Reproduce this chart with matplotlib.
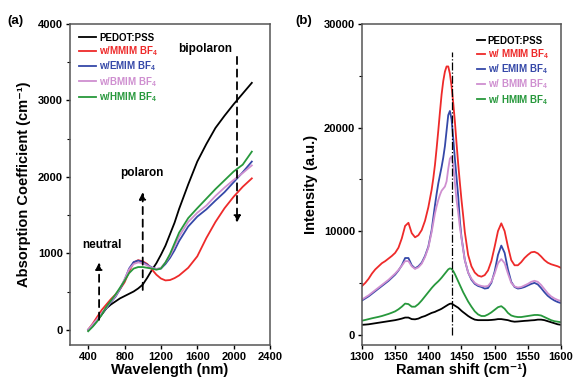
import matplotlib
matplotlib.use("Agg")
import matplotlib.pyplot as plt
from matplotlib.ticker import MultipleLocator

plt.rcParams['font.family'] = ['Liberation Sans', 'DejaVu Sans']
plt.rcParams['font.weight'] = 'bold'
plt.rcParams['mathtext.fontset'] = 'custom'
plt.rcParams['mathtext.rm'] = 'Liberation Sans:bold'
plt.rcParams['mathtext.bf'] = 'Liberation Sans:bold'
plt.rcParams['mathtext.default'] = 'bf'

# ---- (a) absorption spectra ----
wavelength = [400, 450, 500, 550, 600, 650, 700, 750, 800, 850, 900, 950, 1000, 1050,
              1100, 1150, 1200, 1250, 1300, 1350, 1400, 1500, 1600, 1700, 1800, 1900,
              2000, 2100, 2200]
abs_pedot = [0, 50, 120, 200, 280, 330, 370, 410, 440, 470, 500, 540, 590, 680,
             780, 870, 980, 1100, 1250, 1400, 1580, 1900, 2200, 2430, 2640, 2800,
             2950, 3090, 3230]
abs_mmim = [0, 80, 170, 260, 330, 400, 460, 530, 620, 760, 880, 910, 895, 860,
            790, 720, 670, 645, 650, 675, 710, 810, 960, 1200, 1410, 1590,
            1740, 1870, 1980]
abs_emim = [0, 60, 130, 210, 280, 360, 430, 530, 650, 800, 885, 905, 885, 850,
            815, 795, 800, 860, 940, 1040, 1160, 1350, 1480, 1575, 1690, 1800,
            1930, 2060, 2200]
abs_bmim = [0, 70, 140, 220, 290, 370, 440, 540, 660, 790, 860, 880, 870, 840,
            810, 795, 810, 880, 970, 1090, 1220, 1410, 1530, 1625, 1750, 1860,
            1960, 2050, 2150]
abs_hmim = [-20, 40, 110, 200, 300, 380, 460, 550, 640, 740, 800, 820, 820, 810,
            800, 785, 800, 880, 990, 1130, 1270, 1460, 1590, 1715, 1840, 1955,
            2070, 2160, 2330]

# ---- (b) Raman spectra ----
# 1300-1400 every 5, 1405-1455 every 2.5 (main peak), 1460-1600 every 5
raman_shift = (list(range(1300, 1405, 5))
               + [1405, 1407.5, 1410, 1412.5, 1415, 1417.5, 1420, 1422.5, 1425, 1427.5,
                  1430, 1432.5, 1435, 1437.5, 1440, 1442.5, 1445, 1447.5, 1450, 1452.5, 1455]
               + list(range(1460, 1605, 5)))
raman_pedot = [950, 970, 1000, 1050, 1100, 1150, 1200, 1250, 1300, 1350, 1400,
               1470, 1550, 1650, 1650, 1500, 1480, 1550, 1700, 1800, 1950,
               2100, 2150, 2200, 2280, 2350, 2420, 2500, 2600, 2700, 2800, 2900,
               2980, 3000, 2900, 2800, 2700, 2600, 2450, 2300, 2170, 2050,
               1800, 1600, 1450, 1400, 1400, 1400, 1400, 1420, 1450, 1500, 1500,
               1450, 1400, 1300, 1250, 1270, 1300, 1330, 1350, 1380, 1400, 1450,
               1450, 1400, 1300, 1200, 1100, 1000, 950]
raman_mmim = [4700, 5000, 5400, 5900, 6300, 6600, 6900, 7100, 7350, 7600, 7900,
              8400, 9300, 10500, 10800, 9800, 9400, 9600, 10100, 11000, 12300,
              14000, 15100, 16400, 18000, 19700, 21500, 23200, 24500, 25400, 25900, 25900,
              25200, 24000, 22400, 20600, 18500, 16500, 14700, 13000, 11500, 9900,
              7700, 6600, 6000, 5700, 5600, 5750, 6200, 7100, 8500, 10000, 10750,
              10000, 8500, 7200, 6700, 6700, 7000, 7400, 7700, 7950, 8000, 7850,
              7550, 7200, 6950, 6800, 6700, 6600, 6450]
raman_emim = [3300, 3500, 3700, 3950, 4200, 4450, 4700, 4950, 5200, 5500, 5800,
              6200, 6700, 7400, 7400, 6700, 6400, 6600, 6950, 7600, 8500,
              10100, 11300, 12500, 13600, 14600, 15400, 16200, 17100, 18200, 19700, 21200,
              21600, 20800, 19000, 17000, 15200, 13400, 11000, 9400, 8300, 7200,
              6000, 5300, 4900, 4700, 4600, 4450, 4500, 5000, 6100, 7700, 8600,
              7900, 6300, 5100, 4600, 4450, 4500, 4600, 4750, 4900, 5000, 4850,
              4500, 4100, 3750, 3500, 3300, 3150, 3050]
raman_bmim = [3400, 3600, 3800, 4050, 4300, 4550, 4800, 5050, 5300, 5600, 5900,
              6250, 6650, 7100, 7100, 6600, 6350, 6500, 6850, 7500, 8400,
              9900, 10800, 11700, 12400, 13000, 13500, 13900, 14100, 14300, 14800, 16000,
              17000, 17200, 16400, 14700, 13000, 11800, 10400, 9300, 8200, 7200,
              6000, 5400, 5000, 4800, 4700, 4650, 4700, 5100, 5900, 6900, 7300,
              6900, 5900, 5000, 4650, 4550, 4600, 4750, 4900, 5100, 5200, 5100,
              4800, 4400, 4000, 3700, 3500, 3350, 3250]
raman_hmim = [1350, 1420, 1500, 1580, 1650, 1720, 1800, 1900, 2000, 2120, 2250,
              2450, 2700, 3000, 2950, 2700, 2700, 2950, 3300, 3700, 4100,
              4500, 4680, 4850, 5000, 5150, 5320, 5500, 5700, 5900, 6100, 6300,
              6400, 6350, 6150, 5850, 5500, 5150, 4800, 4450, 4100, 3800,
              3200, 2700, 2250, 1950, 1800, 1800, 1950, 2150, 2400, 2650, 2750,
              2500, 2100, 1850, 1750, 1700, 1700, 1750, 1800, 1850, 1900, 1900,
              1850, 1700, 1550, 1400, 1300, 1250, 1200]
peak_pos = 1436
peak_line_top = 27300

colors = ['black', '#ee2a2a', '#3548a8', '#cf8fd0', '#27983c']
labels_a = ['PEDOT:PSS', 'w/MMIM BF$_4$', 'w/EMIM BF$_4$', 'w/BMIM BF$_4$', 'w/HMIM BF$_4$']
labels_b = ['PEDOT:PSS', 'w/ MMIM BF$_4$', 'w/ EMIM BF$_4$', 'w/ BMIM BF$_4$', 'w/ HMIM BF$_4$']

# arrows: (x, start y, end y) and text labels: (x, y, text)
arrows = [(520, 130, 880), (1000, 520, 1800), (2037, 3570, 1400)]
notes = [(553, 1110, 'neutral'), (986, 2050, 'polaron'), (1690, 3670, 'bipolaron')]

fig = plt.figure(figsize=(5.76, 3.8), dpi=100)
ax1 = fig.add_axes([70 / 576, 1 - 345 / 380, 200 / 576, 321 / 380])
ax2 = fig.add_axes([362 / 576, 1 - 345 / 380, 199 / 576, 321 / 380])

for ys, c, lab in zip([abs_pedot, abs_mmim, abs_emim, abs_bmim, abs_hmim], colors, labels_a):
    ax1.plot(wavelength, ys, color=c, lw=1.3, label=lab)

for x, y0, y1 in arrows:
    ax1.annotate('', xy=(x, y1), xytext=(x, y0),
                 arrowprops=dict(arrowstyle='-|>', color='black', lw=1.3,
                                 linestyle=(0, (4, 3)), mutation_scale=10,
                                 shrinkA=0, shrinkB=0))
for x, y, t in notes:
    ax1.text(x, y, t, ha='center', va='center', fontsize=8.5, fontweight='bold')

ax1.set_xlim(200, 2400)
ax1.set_ylim(-200, 4000)
ax1.xaxis.set_major_locator(MultipleLocator(400))
ax1.yaxis.set_major_locator(MultipleLocator(1000))
ax1.yaxis.set_minor_locator(MultipleLocator(500))
ax1.set_xlabel('Wavelength (nm)', fontsize=10.5, fontweight='bold', labelpad=0.5)
ax1.set_ylabel('Absorption Coefficient (cm⁻¹)', fontsize=10.5, fontweight='bold', labelpad=5)
ax1.legend(loc='upper left', frameon=False, handlelength=1.8,
           handletextpad=0.3, labelspacing=0.15, borderaxespad=0.5,
           labelcolor='linecolor', prop={'weight': 'bold', 'size': 7})

for ys, c, lab in zip([raman_pedot, raman_mmim, raman_emim, raman_bmim, raman_hmim], colors, labels_b):
    ax2.plot(raman_shift, ys, color=c, lw=1.3, label=lab)
ax2.vlines(peak_pos, 0, peak_line_top, colors='black', linestyles='-.', lw=0.9)

ax2.set_xlim(1300, 1600)
ax2.set_ylim(-1000, 30000)
ax2.xaxis.set_major_locator(MultipleLocator(50))
ax2.yaxis.set_major_locator(MultipleLocator(10000))
ax2.yaxis.set_minor_locator(MultipleLocator(5000))
ax2.set_xlabel('Raman shift (cm⁻¹)', fontsize=10.5, fontweight='bold', labelpad=0.5)
ax2.set_ylabel('Intensity (a.u.)', fontsize=10.5, fontweight='bold', labelpad=4)
ax2.legend(loc='upper right', frameon=False, handlelength=0.8,
           handletextpad=0.3, labelspacing=0.15, borderaxespad=0.8,
           labelcolor='linecolor', prop={'weight': 'bold', 'size': 7})

for ax in (ax1, ax2):
    for sp in ax.spines.values():
        sp.set_color('#555555')
        sp.set_linewidth(1.1)
    ax.tick_params(which='major', direction='out', length=3, width=1, labelsize=8, pad=2)
    ax.tick_params(which='minor', direction='out', length=2, width=0.8)
    for lab in ax.get_xticklabels() + ax.get_yticklabels():
        lab.set_fontweight('bold')

fig.text(7 / 576, 1 - 21 / 380, '(a)', fontsize=9.5, fontweight='bold', va='center')
fig.text(295 / 576, 1 - 21 / 380, '(b)', fontsize=9.5, fontweight='bold', va='center')

fig.savefig('out.png', dpi=100)
